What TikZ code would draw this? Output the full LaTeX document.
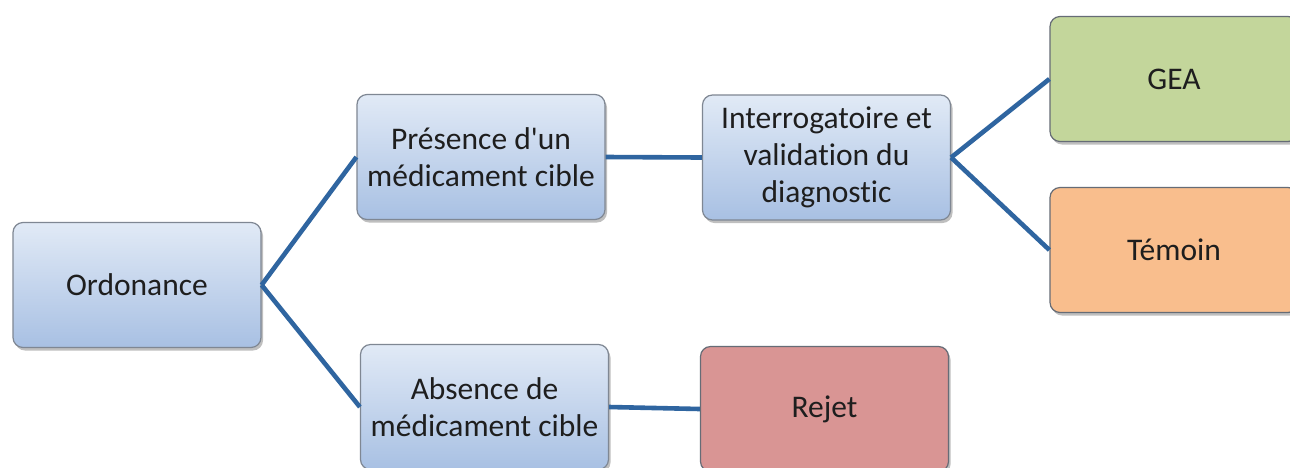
\documentclass[tikz,border=0pt]{standalone}
\usepackage{fontspec}
\setmainfont{Carlito}[Ligatures={TeX,NoCommon}]
\usetikzlibrary{shadows}
\definecolor{bluetop}{HTML}{E1EAF6}
\definecolor{bluebot}{HTML}{A8C0E3}
\definecolor{edgegray}{HTML}{7F8793}
\definecolor{linkblue}{HTML}{2F65A0}
\definecolor{geagreen}{HTML}{C3D69B}
\definecolor{temorange}{HTML}{F9BE8D}
\definecolor{rejred}{HTML}{D99594}
\definecolor{txt}{HTML}{1E1E1E}
\tikzset{
  box/.style={draw=edgegray, line width=1.2pt, rounded corners=10pt,
    minimum width=248pt, minimum height=125pt, align=center,
    text=txt, font=\fontsize{31.5}{37}\selectfont,
    drop shadow={shadow xshift=2pt, shadow yshift=-3pt, opacity=0.25, fill=black}},
  bluebox/.style={box, top color=bluetop, bottom color=bluebot},
  link/.style={draw=linkblue, line width=4.6pt}
}
\begin{document}
\begin{tikzpicture}[x=1pt,y=-1pt]
\useasboundingbox (0,0) rectangle (1290,467);
\clip (0,0) rectangle (1290,467);
\fill[white] (0,0) rectangle (1290,467);
\node[bluebox] (ord) at (137,285) {Ordonance};
\node[bluebox] (pres) at (481,157) {Présence d\textquotesingle un\\médicament cible};
\node[bluebox] (inter) at (826.5,157.5) {Interrogatoire et\\validation du\\diagnostic};
\node[bluebox] (abs) at (484.5,407) {Absence de\\médicament cible};
\node[box, fill=geagreen, draw=edgegray!80!black] (gea) at (1174,79) {GEA};
\node[box, fill=temorange, draw=edgegray!80!black] (tem) at (1174,250) {Témoin};
\node[box, fill=rejred, draw=edgegray!80!black] (rej) at (824.5,409) {Rejet};
\draw[link] (ord.east) -- (pres.west);
\draw[link] (ord.east) -- (abs.west);
\draw[link] (pres.east) -- (inter.west);
\draw[link] (inter.east) -- (gea.west);
\draw[link] (inter.east) -- (tem.west);
\draw[link] (abs.east) -- (rej.west);
\end{tikzpicture}
\end{document}
